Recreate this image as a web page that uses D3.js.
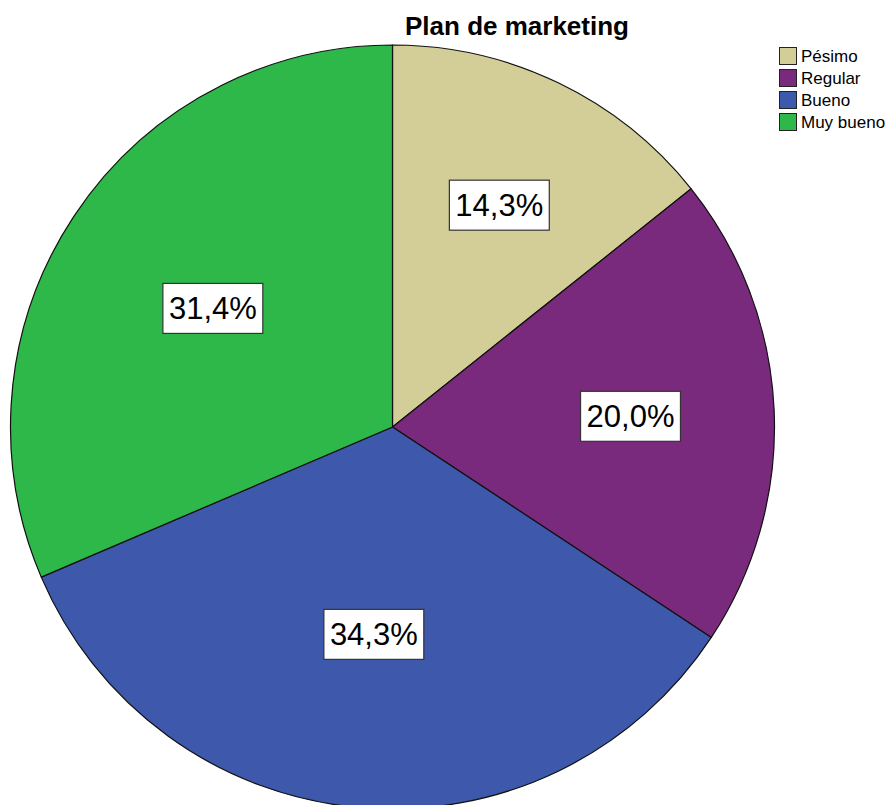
<!DOCTYPE html>
<html>
<head>
<meta charset="utf-8">
<script src="https://cdn.jsdelivr.net/npm/d3@7"></script>
<style>
  html, body { margin: 0; padding: 0; background: #fff; }
  svg { display: block; }
</style>
</head>
<body>
<svg id="chart" width="889" height="805"></svg>
<script>
// Survey responses for "Plan de marketing" (n = 35)
const categories = ["Pésimo", "Regular", "Bueno", "Muy bueno"];
const counts = [5, 7, 12, 11];
const colors = ["#d3ce97", "#7a2a7c", "#3e58ab", "#2eb84a"];
const title = "Plan de marketing";

const width = 889, height = 805;
const cx = 392.5, cy = 427, radius = 382;

const svg = d3.select("#chart");
const total = d3.sum(counts);
const pct = d3.format(".1f");
const fmtPct = v => pct(v * 100).replace(".", ",") + "%";

const color = d3.scaleOrdinal().domain(categories).range(colors);

const pie = d3.pie().sort(null).value(d => d.value).startAngle(0).endAngle(2 * Math.PI);
const arcs = pie(categories.map((c, i) => ({ name: c, value: counts[i] })));
const arc = d3.arc().innerRadius(0).outerRadius(radius);

const g = svg.append("g").attr("transform", `translate(${cx},${cy})`);

g.selectAll("path.slice")
  .data(arcs)
  .join("path")
  .attr("class", "slice")
  .attr("d", arc)
  .attr("fill", d => color(d.data.name))
  .attr("stroke", "#111")
  .attr("stroke-width", 1.2)
  .attr("stroke-linejoin", "round");

// Percentage labels sit at each sector's area centroid
const labelFont = 31;
const labels = g.selectAll("g.lbl")
  .data(arcs)
  .join("g")
  .attr("class", "lbl")
  .attr("transform", d => {
    const a = d.endAngle - d.startAngle;
    const mid = (d.startAngle + d.endAngle) / 2;
    const dist = 4 * radius * Math.sin(a / 2) / (3 * a);
    return `translate(${dist * Math.sin(mid)},${-dist * Math.cos(mid)})`;
  });

labels.each(function(d) {
  const sel = d3.select(this);
  const t = sel.append("text")
    .attr("text-anchor", "middle")
    .attr("dominant-baseline", "central")
    .attr("font-family", "Liberation Sans, Arial, sans-serif")
    .attr("font-size", labelFont)
    .attr("fill", "#000")
    .text(fmtPct(d.data.value / total));
  const bb = t.node().getBBox();
  sel.insert("rect", "text")
    .attr("x", bb.x - 6)
    .attr("y", -25)
    .attr("width", bb.width + 12)
    .attr("height", 50)
    .attr("fill", "#fff")
    .attr("stroke", "#333")
    .attr("stroke-width", 1.2);
});

// Title
svg.append("text")
  .attr("x", 517)
  .attr("y", 35)
  .attr("text-anchor", "middle")
  .attr("font-family", "Liberation Sans, Arial, sans-serif")
  .attr("font-weight", "bold")
  .attr("font-size", 26)
  .attr("fill", "#000")
  .text(title);

// Legend
const legend = svg.append("g").attr("transform", "translate(779,47)");
const rowH = 22;
const items = legend.selectAll("g.item")
  .data(categories)
  .join("g")
  .attr("class", "item")
  .attr("transform", (d, i) => `translate(0,${i * rowH})`);

items.append("rect")
  .attr("x", 0.5).attr("y", 0.5)
  .attr("width", 17).attr("height", 17)
  .attr("fill", d => color(d))
  .attr("stroke", "#222")
  .attr("stroke-width", 1);

items.append("text")
  .attr("x", 22)
  .attr("y", 9)
  .attr("dominant-baseline", "central")
  .attr("font-family", "Liberation Sans, Arial, sans-serif")
  .attr("font-size", 17)
  .attr("fill", "#000")
  .text(d => d);
</script>
</body>
</html>
